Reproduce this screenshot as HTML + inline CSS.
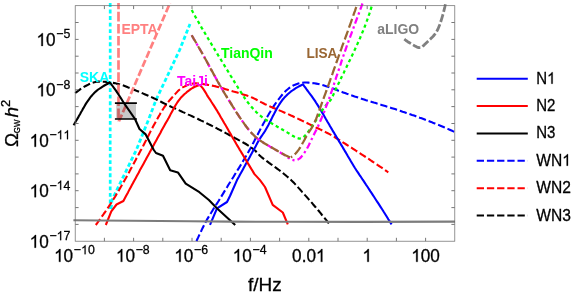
<!DOCTYPE html>
<html><head><meta charset="utf-8"><title>GW spectra</title>
<style>
html,body{margin:0;padding:0;background:#fff;}
body{width:581px;height:296px;overflow:hidden;}
svg{display:block;font-family:"Liberation Sans",sans-serif;will-change:transform;}
.b{font-weight:bold;font-size:14px;}
.o{fill:none;stroke:none;}
</style></head><body>
<svg width="581" height="296" viewBox="0 0 581 296">
<rect width="581" height="296" fill="#fff"/>
<g stroke-linejoin="round">
<path d="M110.2,3.0 L110.2,209.0" stroke="#00ffff" stroke-width="2.7" fill="none" stroke-dasharray="3.9 2.65" />
<path d="M111.0,209.0 L112.0,200.0 L136.3,150.0 L148.4,120.0 L156.0,100.0 L179.6,50.0 L190.0,24.0" stroke="#00ffff" stroke-width="2.8" fill="none" stroke-dasharray="4.1 2.5" />
<path d="M196.5,241.1 L197.3,239.3 L198.2,237.4 L199.0,235.6 L199.9,233.8 L200.8,232.0 L201.6,230.1 L202.5,228.3 L203.4,226.5 L204.3,224.7 L205.2,222.9 L206.2,221.1 L207.1,219.4 L208.2,217.6 L209.2,215.9 L210.2,214.2 L211.3,212.5 L212.4,210.7 L213.4,209.0 L214.5,207.3 L215.6,205.6 L216.7,203.9 L217.8,202.2 L218.9,200.5 L219.9,198.8 L221.0,197.1 L222.0,195.4 L223.1,193.6 L224.1,191.9 L225.2,190.2 L226.2,188.5 L227.3,186.8 L228.3,185.0 L229.4,183.3 L230.5,181.6 L231.5,179.9 L232.6,178.2 L233.7,176.5 L234.7,174.7 L235.8,173.0 L236.8,171.3 L237.9,169.6 L239.0,167.9 L240.0,166.2 L241.1,164.4 L242.1,162.7 L243.1,161.0 L244.2,159.2 L245.2,157.5 L246.2,155.8 L247.2,154.0 L248.2,152.3 L249.2,150.5 L250.2,148.8 L251.2,147.0 L252.1,145.2 L253.0,143.4 L254.0,141.6 L254.9,139.8 L255.8,138.0 L256.7,136.2 L257.7,134.5 L258.6,132.7 L259.5,130.9 L260.5,129.1 L261.4,127.3 L262.4,125.5 L263.3,123.7 L264.3,122.0 L265.3,120.2 L266.3,118.5 L267.3,116.7 L268.3,115.0 L269.3,113.2 L270.4,111.5 L271.4,109.8 L272.5,108.0 L273.6,106.3 L274.7,104.7 L275.9,103.0 L277.0,101.4 L278.2,99.8 L279.5,98.2 L280.7,96.6 L282.0,95.0 L283.3,93.4 L284.7,91.9 L286.2,90.5 L287.7,89.3 L289.2,88.0 L290.9,86.9 L292.7,85.8 L294.5,84.9 L296.3,84.2 L298.3,83.6 L300.2,83.1 L302.3,82.7 L304.3,82.5 L306.3,82.5 L308.3,82.6 L310.3,82.8 L312.3,83.1 L314.3,83.3 L316.3,83.6 L318.3,84.0 L320.2,84.5 L322.2,85.0 L324.1,85.6 L326.1,86.2 L328.0,86.8 L329.9,87.4 L331.8,88.1 L333.7,88.8 L335.6,89.6 L337.4,90.3 L339.3,91.1 L341.2,91.7 L343.1,92.4 L345.0,93.1 L346.9,93.8 L348.8,94.4 L350.7,95.1 L352.6,95.7 L354.6,96.4 L356.5,97.0 L358.4,97.7 L360.3,98.3 L362.2,98.9 L364.1,99.5 L366.1,100.2 L368.0,100.8 L369.9,101.4 L371.8,102.0 L373.8,102.6 L375.7,103.1 L377.6,103.7 L379.5,104.3 L381.5,104.9 L383.4,105.5 L385.3,106.1 L387.3,106.7 L389.2,107.3 L391.1,107.9 L393.0,108.5 L395.0,109.1 L396.9,109.8 L398.8,110.4 L400.7,111.0 L402.6,111.7 L404.5,112.3 L406.4,113.0 L408.3,113.6 L410.2,114.3 L412.1,115.0 L414.1,115.6 L416.0,116.3 L417.9,117.0 L419.8,117.7 L421.6,118.3 L423.5,119.0 L425.4,119.8 L427.3,120.5 L429.2,121.2 L431.1,121.9 L432.9,122.7 L434.8,123.4 L436.7,124.2 L438.6,124.9 L440.4,125.7 L442.3,126.5 L444.1,127.3 L446.0,128.1 L447.8,128.9 L449.7,129.7 L451.5,130.5 L453.4,131.4 L455.2,132.2" stroke="#0000ff" stroke-width="2.1" fill="none" stroke-dasharray="7.3 2.9" />
<path d="M95.8,225.0 L97.0,223.4 L98.2,221.7 L99.4,220.1 L100.5,218.5 L101.7,216.8 L102.9,215.2 L104.0,213.5 L105.2,211.9 L106.3,210.2 L107.5,208.5 L108.6,206.8 L109.7,205.2 L110.8,203.5 L111.9,201.8 L112.9,200.1 L114.0,198.4 L115.1,196.7 L116.1,194.9 L117.1,193.2 L118.2,191.5 L119.2,189.8 L120.2,188.0 L121.2,186.3 L122.2,184.5 L123.2,182.8 L124.2,181.0 L125.2,179.2 L126.2,177.5 L127.1,175.7 L128.1,173.9 L129.1,172.2 L130.0,170.4 L131.0,168.6 L132.0,166.8 L132.9,165.1 L133.9,163.3 L134.8,161.5 L135.8,159.7 L136.7,157.9 L137.7,156.2 L138.6,154.4 L139.6,152.6 L140.5,150.8 L141.5,149.1 L142.5,147.3 L143.4,145.5 L144.3,143.7 L145.2,141.9 L146.2,140.1 L147.1,138.3 L148.0,136.5 L148.9,134.7 L149.8,132.9 L150.7,131.1 L151.7,129.3 L152.6,127.5 L153.5,125.8 L154.5,124.0 L155.5,122.2 L156.4,120.5 L157.4,118.7 L158.4,116.9 L159.4,115.2 L160.4,113.4 L161.5,111.7 L162.5,110.0 L163.6,108.3 L164.7,106.6 L165.9,105.0 L167.1,103.4 L168.4,101.8 L169.7,100.2 L171.0,98.7 L172.3,97.2 L173.7,95.7 L175.1,94.1 L176.5,92.6 L177.9,91.1 L179.4,89.7 L181.0,88.4 L182.6,87.4 L184.3,86.6 L186.1,85.7 L188.0,84.9 L190.0,84.2 L192.0,83.7 L194.0,83.4 L196.0,83.4 L198.0,83.5 L200.0,83.7 L202.0,83.9 L204.0,84.2 L206.0,84.5 L208.0,84.9 L210.0,85.2 L212.0,85.6 L214.0,86.0 L215.9,86.4 L217.9,86.9 L219.8,87.5 L221.8,88.0 L223.7,88.6 L225.6,89.2 L227.6,89.8 L229.5,90.4 L231.4,90.9 L233.4,91.5 L235.3,92.0 L237.3,92.6 L239.2,93.2 L241.2,93.8 L243.1,94.4 L245.0,95.0 L246.9,95.6 L248.8,96.3 L250.7,97.0 L252.6,97.8 L254.4,98.6 L256.2,99.5 L257.9,100.5 L259.7,101.5 L261.5,102.4 L263.3,103.3 L265.1,104.2 L266.9,105.0 L268.8,105.8 L270.6,106.7 L272.5,107.5 L274.3,108.2 L276.2,109.0 L278.0,109.8 L279.9,110.6 L281.8,111.4 L283.6,112.2 L285.5,113.0 L287.3,113.8 L289.2,114.6 L291.0,115.5 L292.8,116.3 L294.6,117.2 L296.5,118.0 L298.3,118.9 L300.1,119.7 L301.9,120.6 L303.8,121.5 L305.6,122.4 L307.4,123.2 L309.2,124.1 L311.0,125.0 L312.8,125.9 L314.6,126.8 L316.4,127.7 L318.3,128.5 L320.1,129.4 L321.9,130.3 L323.7,131.2 L325.5,132.1 L327.3,133.0 L329.1,133.9 L330.9,134.9 L332.6,135.9 L334.3,136.9 L336.0,138.0 L337.8,139.1 L339.5,140.1 L341.2,141.2 L342.9,142.3 L344.6,143.4 L346.3,144.5 L348.0,145.6 L349.7,146.7 L351.4,147.7 L353.1,148.8 L354.8,149.9 L356.4,151.0 L358.1,152.1 L359.8,153.2 L361.5,154.3 L363.2,155.4 L364.9,156.5 L366.6,157.6 L368.3,158.7 L370.0,159.8 L371.6,161.0 L373.3,162.1 L375.0,163.2 L376.7,164.3 L378.3,165.5 L380.0,166.6 L381.7,167.7 L383.3,168.9 L385.0,170.0 L386.6,171.2 L388.3,172.3" stroke="#ff0000" stroke-width="2.1" fill="none" stroke-dasharray="7.3 2.9" />
<path d="M75.2,93.0 L76.8,91.8 L78.4,90.6 L80.1,89.4 L81.8,88.3 L83.5,87.3 L85.2,86.2 L87.0,85.3 L88.8,84.3 L90.6,83.5 L92.5,82.7 L94.4,82.2 L96.4,81.8 L98.4,81.6 L100.4,81.6 L102.4,81.7 L104.4,81.7 L106.4,81.9 L108.4,82.2 L110.4,82.5 L112.4,82.8 L114.4,83.1 L116.4,83.6 L118.4,84.0 L120.3,84.5 L122.2,85.1 L124.1,85.7 L126.0,86.5 L127.8,87.3 L129.7,88.0 L131.6,88.8 L133.4,89.5 L135.3,90.3 L137.2,91.1 L139.0,91.8 L140.9,92.6 L142.8,93.4 L144.6,94.2 L146.5,95.0 L148.3,95.8 L150.1,96.6 L152.0,97.4 L153.8,98.3 L155.6,99.1 L157.4,100.0 L159.2,100.9 L161.0,101.8 L162.8,102.7 L164.6,103.6 L166.5,104.5 L168.3,105.4 L170.1,106.2 L171.9,107.1 L173.7,107.9 L175.6,108.7 L177.4,109.6 L179.3,110.4 L181.1,111.2 L182.9,112.1 L184.8,112.9 L186.6,113.7 L188.4,114.6 L190.3,115.4 L192.1,116.2 L193.9,117.1 L195.7,117.9 L197.6,118.8 L199.4,119.7 L201.2,120.6 L203.0,121.4 L204.8,122.3 L206.6,123.2 L208.4,124.1 L210.2,125.0 L212.0,125.9 L213.8,126.8 L215.6,127.7 L217.4,128.7 L219.2,129.6 L221.0,130.5 L222.8,131.5 L224.5,132.4 L226.3,133.4 L228.1,134.3 L229.8,135.3 L231.6,136.3 L233.4,137.2 L235.2,138.2 L237.0,139.1 L238.8,140.1 L240.6,141.0 L242.4,142.0 L244.1,143.0 L245.9,144.0 L247.6,145.1 L249.3,146.2 L250.9,147.3 L252.5,148.5 L254.1,149.7 L255.6,151.0 L256.9,152.5 L258.3,154.0 L259.7,155.5 L261.1,156.8 L262.7,158.1 L264.2,159.3 L265.9,160.5 L267.5,161.7 L269.1,162.9 L270.8,164.1 L272.5,165.2 L274.1,166.4 L275.8,167.6 L277.4,168.8 L279.0,170.0 L280.6,171.2 L282.1,172.5 L283.7,173.7 L285.3,175.0 L286.8,176.3 L288.4,177.6 L289.9,178.9 L291.3,180.3 L292.8,181.7 L294.2,183.1 L295.6,184.6 L297.0,186.1 L298.3,187.6 L299.7,189.1 L301.0,190.6 L302.3,192.1 L303.7,193.6 L305.0,195.1 L306.4,196.6 L307.7,198.1 L309.0,199.6 L310.3,201.1 L311.7,202.6 L313.0,204.2 L314.3,205.7 L315.6,207.2 L316.9,208.8 L318.2,210.3 L319.5,211.8 L320.8,213.4 L322.0,215.0 L323.3,216.5 L324.6,218.1 L325.9,219.7 L327.1,221.2 L328.4,222.8 L329.6,224.4" stroke="#000000" stroke-width="2.1" fill="none" stroke-dasharray="7.3 2.9" />
<path d="M118.5,3.0 L118.5,121.3" stroke="#ff8080" stroke-width="2.7" fill="none" stroke-dasharray="9.6 2.5" stroke-dashoffset="3.3"/>
<path d="M119.0,121.3 L170.0,3.0" stroke="#ff8080" stroke-width="2.7" fill="none" stroke-dasharray="7.3 2.6" />
<rect x="116.2" y="103.2" width="19.8" height="15.8" fill="#000" fill-opacity="0.21"/>
<path d="M114.9,103.1 H136.9 M114.9,119.0 H136.9" stroke="#000" stroke-width="1.7"/>
<path d="M210.0,224.8 L217.0,208.3 L227.0,202.0 L230.0,196.0 L237.0,180.1 L237.0,180.1 L238.0,178.3 L239.0,176.5 L239.9,174.7 L240.9,173.0 L241.9,171.2 L242.9,169.4 L243.9,167.6 L244.9,165.8 L245.8,164.0 L246.8,162.3 L247.8,160.5 L248.8,158.7 L249.8,156.9 L250.8,155.1 L251.8,153.3 L252.7,151.6 L253.7,149.8 L254.7,148.0 L255.7,146.2 L256.6,144.4 L257.6,142.6 L258.6,140.8 L259.6,139.1 L260.7,137.4 L261.9,135.7 L263.0,134.0 L264.2,132.3 L265.3,130.6 L266.3,128.8 L267.3,127.0 L268.3,125.2 L269.2,123.4 L270.2,121.6 L271.1,119.7 L272.0,117.9 L272.9,116.0 L273.9,114.2 L274.8,112.4 L275.8,110.6 L276.7,108.8 L277.7,107.0 L278.8,105.3 L279.8,103.6 L281.0,101.9 L282.1,100.3 L283.4,98.8 L284.7,97.2 L286.2,95.8 L287.7,94.3 L289.2,93.0 L290.7,91.7 L292.4,90.5 L294.1,89.3 L295.8,88.2 L297.6,87.2 L299.3,86.2 L301.2,85.3 L303.0,84.4 L303.0,84.4 L304.2,86.1 L305.4,87.7 L306.6,89.4 L307.8,91.0 L309.0,92.7 L310.3,94.3 L311.5,95.9 L312.7,97.6 L313.9,99.3 L315.0,100.9 L316.1,102.7 L317.2,104.4 L318.3,106.1 L319.4,107.9 L320.5,109.6 L321.5,111.4 L322.5,113.1 L323.6,114.9 L324.6,116.7 L325.6,118.5 L326.6,120.2 L327.6,122.0 L328.7,123.8 L329.7,125.6 L330.7,127.3 L331.8,129.1 L332.8,130.9 L333.9,132.6 L334.9,134.4 L336.0,136.1 L337.0,137.9 L338.1,139.6 L339.1,141.4 L340.2,143.1 L341.2,144.9 L342.3,146.6 L343.3,148.4 L344.4,150.2 L345.4,151.9 L346.5,153.7 L347.5,155.5 L348.5,157.2 L349.6,159.0 L350.6,160.8 L351.6,162.5 L352.7,164.3 L353.7,166.0 L354.8,167.8 L355.9,169.5 L357.0,171.2 L358.2,172.9 L359.3,174.6 L360.5,176.3 L361.6,178.0 L362.7,179.7 L363.9,181.4 L365.0,183.1 L366.1,184.8 L367.3,186.5 L368.4,188.2 L369.5,189.9 L370.6,191.7 L371.8,193.4 L372.9,195.1 L374.0,196.8 L375.1,198.5 L376.2,200.2 L377.3,201.9 L378.5,203.7 L379.6,205.4 L380.7,207.1 L381.8,208.8 L382.9,210.5 L384.0,212.3 L385.1,214.0 L386.2,215.7 L387.3,217.5 L388.3,219.2 L389.4,220.9 L390.5,222.7 L391.6,224.4" stroke="#0000ff" stroke-width="2.1" fill="none" />
<path d="M105.8,225.0 L111.3,211.4 L116.5,204.5 L123.4,201.0 L126.0,196.0 L126.0,196.0 L127.0,194.2 L128.0,192.4 L128.9,190.6 L129.9,188.7 L130.9,186.9 L131.9,185.1 L132.9,183.3 L133.8,181.5 L134.8,179.7 L135.8,177.9 L136.8,176.1 L137.8,174.3 L138.8,172.5 L139.7,170.6 L140.7,168.8 L141.7,167.0 L142.7,165.2 L143.7,163.4 L144.7,161.6 L145.7,159.8 L146.6,158.0 L147.6,156.2 L148.6,154.4 L149.6,152.6 L150.6,150.7 L151.6,148.9 L152.6,147.1 L153.6,145.3 L154.5,143.5 L155.5,141.7 L156.5,139.9 L157.5,138.1 L158.5,136.3 L159.5,134.5 L160.5,132.7 L161.4,130.8 L162.4,129.0 L163.4,127.2 L164.4,125.4 L165.4,123.6 L166.5,121.8 L167.5,120.1 L168.5,118.3 L169.5,116.4 L170.4,114.6 L171.4,112.7 L172.4,110.9 L173.4,109.1 L174.4,107.3 L175.4,105.5 L176.5,103.7 L177.6,102.0 L178.8,100.4 L180.0,98.8 L181.3,97.2 L182.8,95.8 L184.3,94.3 L185.9,93.0 L187.4,91.6 L189.1,90.4 L190.7,89.2 L192.5,88.0 L194.3,87.0 L196.1,86.2 L198.1,85.5 L200.1,85.0 L200.1,85.0 L201.4,86.6 L202.7,88.2 L203.9,89.9 L205.0,91.6 L206.0,93.3 L207.0,95.1 L208.1,96.9 L209.3,98.6 L210.4,100.2 L211.5,102.0 L212.6,103.7 L213.7,105.4 L214.8,107.1 L215.9,108.9 L217.0,110.6 L218.0,112.4 L219.1,114.1 L220.1,115.9 L221.1,117.7 L222.2,119.4 L223.2,121.2 L224.2,123.0 L225.3,124.8 L226.3,126.5 L227.3,128.3 L228.3,130.1 L229.3,131.9 L230.4,133.6 L231.4,135.4 L232.4,137.2 L233.4,139.0 L234.5,140.7 L235.5,142.5 L236.5,144.3 L237.6,146.1 L238.6,147.8 L239.6,149.6 L240.7,151.3 L241.8,153.1 L242.8,154.8 L243.9,156.6 L244.9,158.3 L246.0,160.1 L247.0,161.9 L248.1,163.6 L249.2,165.4 L250.2,167.1 L251.3,168.9 L252.4,170.6 L253.4,172.4 L254.5,174.1 L260.0,180.1 L265.0,187.0 L272.7,204.9 L282.8,212.5 L287.8,224.4" stroke="#ff0000" stroke-width="2.1" fill="none" />
<path d="M73.6,125.2 L74.7,123.4 L75.7,121.5 L76.8,119.7 L77.9,117.9 L78.9,116.0 L80.0,114.2 L81.0,112.3 L82.1,110.5 L83.1,108.6 L84.2,106.7 L85.2,104.9 L86.3,103.1 L87.5,101.4 L88.8,99.6 L90.0,97.9 L91.3,96.2 L92.7,94.6 L94.2,93.0 L95.7,91.6 L97.3,90.2 L99.0,89.0 L100.8,87.8 L102.6,86.6 L104.4,85.5 L106.2,84.5 L108.1,83.5 L110.0,82.5 L110.0,82.5 L115.6,90.1 L120.5,97.5 L124.0,103.2 L135.0,119.0 L139.5,129.0 L145.7,134.4 L153.8,150.0 L156.0,153.0 L163.0,155.8 L170.2,170.3 L177.9,172.4 L185.7,183.6 L199.4,192.2 L208.9,200.0 L216.6,207.9 L235.2,225.1" stroke="#000000" stroke-width="2.1" fill="none" />
<path d="M191.7,10.0 L192.7,11.8 L193.7,13.5 L194.6,15.3 L195.6,17.1 L196.6,18.8 L197.6,20.6 L198.6,22.3 L199.6,24.1 L200.6,25.8 L201.6,27.6 L202.7,29.3 L203.7,31.1 L204.7,32.8 L205.7,34.5 L206.7,36.3 L207.8,38.0 L208.8,39.7 L209.8,41.5 L210.9,43.2 L211.9,44.9 L213.0,46.7 L214.0,48.4 L215.1,50.1 L216.1,51.8 L217.2,53.6 L218.2,55.3 L219.3,57.0 L220.3,58.7 L221.4,60.5 L222.4,62.2 L223.5,63.9 L224.5,65.6 L225.6,67.4 L226.6,69.1 L227.7,70.8 L228.7,72.5 L229.8,74.3 L230.8,76.0 L231.9,77.7 L232.9,79.4 L234.0,81.1 L235.0,82.9 L236.1,84.6 L237.2,86.3 L238.2,88.0 L239.3,89.7 L240.4,91.4 L241.5,93.1 L242.6,94.8 L243.7,96.5 L244.7,98.2 L245.9,99.9 L247.1,101.5 L248.4,103.1 L249.6,104.7 L250.9,106.2 L252.3,107.8 L253.6,109.3 L255.0,110.8 L256.4,112.2 L257.9,113.6 L259.4,114.9 L260.9,116.2 L262.4,117.4 L264.1,118.6 L265.7,119.7 L267.4,120.8 L269.2,121.9 L270.9,122.9 L272.7,124.0 L274.4,125.0 L276.2,126.0 L277.9,127.1 L279.7,128.1 L281.4,129.1 L283.2,130.1 L284.9,131.1 L286.7,132.1 L288.4,133.1 L290.1,134.2 L291.8,135.3 L293.6,136.3 L295.4,137.2 L297.3,138.1 L299.2,138.6 L301.2,138.3 L303.1,137.5 L304.6,136.2 L305.9,134.6 L307.2,133.1 L308.4,131.5 L309.6,129.8 L310.8,128.2 L312.0,126.5 L313.1,124.9 L314.2,123.2 L315.3,121.5 L316.4,119.7 L317.4,118.0 L318.5,116.3 L319.6,114.5 L320.6,112.8 L321.7,111.1 L322.9,109.4 L324.0,107.8 L325.2,106.2 L326.4,104.6 L327.6,103.0 L329.1,101.6 L330.5,100.2 L331.6,98.5 L332.5,96.7 L333.3,94.9 L334.1,93.0 L334.9,91.1 L335.8,89.3 L336.6,87.4 L337.5,85.6 L338.4,83.8 L339.3,82.0 L340.1,80.2 L341.0,78.3 L341.9,76.5 L342.8,74.7 L343.7,72.9 L344.5,71.1 L345.4,69.3 L346.3,67.5 L347.2,65.6 L348.1,63.8 L348.9,62.0 L349.8,60.2 L350.7,58.4 L351.6,56.5 L352.4,54.7 L353.3,52.9 L354.1,51.1 L355.0,49.2 L355.8,47.4 L356.6,45.5 L357.5,43.7 L358.3,41.9 L359.1,40.0 L360.0,38.2 L360.8,36.3 L361.6,34.5 L362.3,32.6 L363.1,30.7 L363.9,28.9 L364.6,27.0 L365.3,25.1 L366.0,23.2 L366.7,21.3 L367.4,19.4 L368.1,17.5 L368.7,15.6 L369.4,13.7 L370.0,11.8 L370.6,9.9 L371.2,7.9 L371.8,6.0" stroke="#00ff00" stroke-width="2.25" fill="none" stroke-dasharray="3.3 3.0" />
<path d="M191.7,35.3 L192.7,37.0 L193.7,38.8 L194.8,40.5 L195.8,42.3 L196.8,44.0 L197.8,45.8 L198.8,47.5 L199.9,49.2 L200.9,51.0 L201.9,52.7 L202.9,54.5 L203.9,56.3 L204.8,58.0 L205.8,59.8 L206.8,61.6 L207.8,63.3 L208.7,65.1 L209.7,66.9 L210.7,68.7 L211.6,70.4 L212.6,72.2 L213.6,74.0 L214.6,75.8 L215.5,77.5 L216.5,79.3 L217.5,81.1 L218.5,82.8 L219.5,84.6 L220.5,86.4 L221.5,88.1 L222.5,89.8 L223.5,91.6 L224.6,93.3 L225.6,95.0 L226.7,96.7 L227.7,98.5 L228.8,100.2 L229.9,101.9 L231.0,103.6 L232.0,105.3 L233.1,107.0 L234.2,108.7 L235.3,110.5 L236.4,112.2 L237.5,113.9 L238.6,115.7 L239.7,117.4 L240.9,119.1 L242.0,120.7 L243.2,122.4 L244.4,124.1 L245.6,125.7 L246.8,127.3 L248.1,128.9 L249.4,130.4 L250.7,131.9 L252.0,133.4 L253.3,134.8 L254.7,136.2 L256.2,137.5 L257.8,138.8 L259.5,140.0 L261.1,141.2 L262.8,142.3 L264.5,143.3 L266.2,144.4 L268.0,145.4 L269.7,146.4 L271.5,147.4 L273.2,148.5 L275.0,149.5 L276.7,150.5 L278.5,151.5 L280.2,152.5 L281.9,153.6 L283.7,154.6 L285.4,155.6 L287.1,156.8 L288.7,158.0 L290.4,159.1 L292.3,159.8 L294.3,160.3" stroke="#ff00ff" stroke-width="2.25" fill="none" stroke-dasharray="6.5 3 2.4 3" />
<path d="M362.5,3.5 L361.8,5.4 L361.1,7.3 L360.4,9.2 L359.7,11.1 L359.0,13.0 L358.3,14.9 L357.6,16.8 L356.9,18.7 L356.2,20.5 L355.5,22.4 L354.8,24.3 L354.1,26.2 L353.4,28.1 L352.7,30.0 L352.0,31.9 L351.3,33.8 L350.6,35.7 L349.9,37.6 L349.2,39.5 L348.5,41.4 L347.8,43.3 L347.1,45.2 L346.4,47.1 L345.8,49.0 L345.1,50.9 L344.4,52.8 L343.8,54.7 L343.1,56.6 L342.5,58.5 L341.8,60.4 L341.2,62.4 L340.6,64.3 L339.9,66.2 L339.3,68.1 L338.7,70.0 L338.0,71.9 L337.4,73.9 L336.7,75.8 L336.1,77.7 L335.5,79.6 L334.8,81.5 L334.2,83.5 L333.6,85.4 L333.0,87.3 L332.3,89.2 L331.7,91.1 L331.0,93.0 L330.4,95.0 L329.7,96.9 L329.1,98.8 L328.4,100.7 L327.7,102.5 L327.0,104.4 L326.2,106.3 L325.5,108.2 L324.8,110.1 L324.1,112.0 L323.3,113.9 L322.5,115.7 L321.8,117.6 L321.0,119.5 L320.2,121.3 L319.4,123.2 L318.6,125.0 L317.8,126.9 L316.9,128.7 L316.0,130.5 L315.1,132.3 L314.2,134.1 L313.3,135.9 L312.4,137.7 L311.5,139.5 L310.6,141.3 L309.7,143.2 L308.9,145.0 L308.0,146.8 L307.0,148.6 L306.0,150.3 L304.9,152.0 L303.8,153.7 L302.6,155.3 L301.3,156.9 L299.8,158.4 L298.2,159.4 L296.3,160.2 L294.3,160.3" stroke="#ff00ff" stroke-width="2.25" fill="none" stroke-dasharray="6.5 3 2.4 3" />
<path d="M191.7,35.3 L192.7,37.0 L193.7,38.8 L194.8,40.5 L195.8,42.2 L196.8,44.0 L197.8,45.7 L198.8,47.5 L199.8,49.2 L200.9,51.0 L201.9,52.7 L202.8,54.5 L203.8,56.2 L204.8,58.0 L205.8,59.7 L206.8,61.5 L207.7,63.3 L208.7,65.1 L209.7,66.8 L210.6,68.6 L211.6,70.4 L212.6,72.1 L213.5,73.9 L214.5,75.7 L215.5,77.5 L216.5,79.2 L217.4,81.0 L218.4,82.7 L219.4,84.5 L220.4,86.2 L221.4,88.0 L222.4,89.7 L223.5,91.5 L224.5,93.2 L225.5,94.9 L226.6,96.6 L227.6,98.3 L228.7,100.0 L229.8,101.7 L230.9,103.4 L231.9,105.1 L233.0,106.9 L234.1,108.6 L235.2,110.3 L236.3,112.1 L237.4,113.8 L238.5,115.5 L239.6,117.2 L240.8,118.9 L241.9,120.6 L243.1,122.2 L244.3,123.9 L245.5,125.5 L246.7,127.1 L247.9,128.7 L249.2,130.2 L250.5,131.7 L251.8,133.2 L253.2,134.6 L254.5,136.0 L256.0,137.4 L257.6,138.7 L259.2,139.9 L260.9,141.0 L262.6,142.1 L264.2,143.2 L266.0,144.3 L267.7,145.3 L269.4,146.3 L271.2,147.3 L273.0,148.3 L274.7,149.3 L276.5,150.3 L278.2,151.3 L280.0,152.3 L281.7,153.3 L283.5,154.2 L285.3,155.2 L287.1,156.1 L289.0,157.1 L290.8,157.3" stroke="#996633" stroke-width="2.25" fill="none" stroke-dasharray="9.3 3.3" />
<path d="M356.3,7.0 L355.6,8.9 L355.0,10.8 L354.3,12.7 L353.6,14.6 L353.0,16.5 L352.3,18.4 L351.6,20.3 L351.0,22.2 L350.3,24.1 L349.6,26.0 L348.9,27.9 L348.2,29.8 L347.6,31.7 L346.9,33.6 L346.2,35.5 L345.5,37.4 L344.8,39.3 L344.1,41.2 L343.4,43.1 L342.7,44.9 L342.0,46.8 L341.4,48.7 L340.7,50.6 L340.0,52.5 L339.3,54.4 L338.6,56.3 L338.0,58.2 L337.3,60.1 L336.6,62.0 L335.9,63.9 L335.3,65.8 L334.6,67.7 L333.9,69.6 L333.2,71.5 L332.6,73.4 L331.9,75.3 L331.2,77.2 L330.5,79.1 L329.9,81.0 L329.2,82.9 L328.5,84.8 L327.8,86.7 L327.1,88.6 L326.5,90.5 L325.8,92.4 L325.1,94.3 L324.4,96.2 L323.7,98.1 L323.0,100.0 L322.3,101.9 L321.6,103.8 L321.0,105.7 L320.3,107.6 L319.6,109.5 L318.9,111.4 L318.2,113.3 L317.5,115.2 L316.8,117.1 L316.1,118.9 L315.3,120.8 L314.5,122.6 L313.6,124.4 L312.7,126.2 L311.7,127.9 L310.6,129.6 L309.4,131.3 L308.3,133.0 L307.3,134.7 L306.3,136.4 L305.3,138.2 L304.4,140.0 L303.4,141.8 L302.4,143.5 L301.5,145.3 L300.5,147.0 L299.4,148.7 L298.2,150.4 L296.9,152.0 L295.6,153.5 L294.2,154.9 L292.5,156.4 L290.8,157.3" stroke="#996633" stroke-width="2.25" fill="none" stroke-dasharray="9.3 3.3" />
<path d="M404.3,39.2 L406.0,40.5 L407.7,41.7 L409.5,42.8 L411.3,43.9 L413.1,44.9 L415.0,46.1 L417.0,47.1 L418.8,47.7 L420.6,47.6 L422.4,46.6 L424.1,45.1 L425.7,43.5 L427.3,42.0 L428.8,40.6 L430.4,39.1 L431.9,37.6 L433.4,36.0 L434.7,34.4 L435.9,32.7 L436.9,31.0 L437.9,29.2 L438.7,27.3 L439.5,25.3 L440.2,23.3 L440.9,21.3 L441.5,19.3 L442.1,17.3 L442.7,15.3 L443.3,13.2 L443.8,11.2 L444.3,9.2 L444.8,7.1 L445.2,5.1 L445.6,3.0" stroke="#808080" stroke-width="2.8" fill="none" stroke-dasharray="8 2.4" />
</g>
<path d="M73.4,220.2 L100,220.45 L130,220.7 L160,221.0 L190,221.3 L230,221.65 L290,221.8 L360,221.85 L455,221.6" stroke="#7c7c7c" stroke-width="2.1" fill="none"/>
<rect x="75.2" y="5.7" width="379.6" height="235.5" fill="none" stroke="#666" stroke-width="0.7"/>
<path d="M104.4,241.2 v-3.4 M104.4,5.7 v3.4 M133.6,241.2 v-3.4 M133.6,5.7 v3.4 M162.8,241.2 v-3.4 M162.8,5.7 v3.4 M192.0,241.2 v-3.4 M192.0,5.7 v3.4 M221.2,241.2 v-3.4 M221.2,5.7 v3.4 M250.4,241.2 v-3.4 M250.4,5.7 v3.4 M279.6,241.2 v-3.4 M279.6,5.7 v3.4 M308.8,241.2 v-3.4 M308.8,5.7 v3.4 M338.0,241.2 v-3.4 M338.0,5.7 v3.4 M367.2,241.2 v-3.4 M367.2,5.7 v3.4 M396.4,241.2 v-3.4 M396.4,5.7 v3.4 M425.6,241.2 v-3.4 M425.6,5.7 v3.4 M75.2,224.4 h3.4 M454.8,224.4 h-3.4 M75.2,207.6 h3.4 M454.8,207.6 h-3.4 M75.2,190.7 h3.4 M454.8,190.7 h-3.4 M75.2,173.9 h3.4 M454.8,173.9 h-3.4 M75.2,157.1 h3.4 M454.8,157.1 h-3.4 M75.2,140.3 h3.4 M454.8,140.3 h-3.4 M75.2,123.5 h3.4 M454.8,123.5 h-3.4 M75.2,106.6 h3.4 M454.8,106.6 h-3.4 M75.2,89.8 h3.4 M454.8,89.8 h-3.4 M75.2,73.0 h3.4 M454.8,73.0 h-3.4 M75.2,56.2 h3.4 M454.8,56.2 h-3.4 M75.2,39.4 h3.4 M454.8,39.4 h-3.4 M75.2,22.5 h3.4 M454.8,22.5 h-3.4" stroke="#777" stroke-width="1" fill="none"/>
<g fill="#000" stroke="#000" stroke-width="0.3" opacity="0.999">
<text transform="translate(74.4,261.8) scale(0.97,1)" text-anchor="middle" font-size="17.7" ><tspan class="o">1</tspan>0<tspan font-size="12.7" dy="-7.5" dx="0.7">−<tspan class="o">1</tspan>0</tspan></text>
<text transform="translate(132.8,261.8) scale(0.97,1)" text-anchor="middle" font-size="17.7" ><tspan class="o">1</tspan>0<tspan font-size="12.7" dy="-7.5" dx="0.7">−8</tspan></text>
<text transform="translate(191.2,261.8) scale(0.97,1)" text-anchor="middle" font-size="17.7" ><tspan class="o">1</tspan>0<tspan font-size="12.7" dy="-7.5" dx="0.7">−6</tspan></text>
<text transform="translate(249.6,261.8) scale(0.97,1)" text-anchor="middle" font-size="17.7" ><tspan class="o">1</tspan>0<tspan font-size="12.7" dy="-7.5" dx="0.7">−4</tspan></text>
<text transform="translate(308.8,261.8) scale(0.97,1)" text-anchor="middle" font-size="17.7" >0.0<tspan class="o">1</tspan></text>
<text transform="translate(367.2,261.8) scale(0.97,1)" text-anchor="middle" font-size="17.7" ><tspan class="o">1</tspan></text>
<text transform="translate(425.6,261.8) scale(0.97,1)" text-anchor="middle" font-size="17.7" ><tspan class="o">1</tspan>00</text>
<text transform="translate(70.3,45.9) scale(0.97,1)" text-anchor="end" font-size="17.7" ><tspan class="o">1</tspan>0<tspan font-size="12.7" dy="-7.5" dx="0.7">−5</tspan></text>
<text transform="translate(70.3,96.3) scale(0.97,1)" text-anchor="end" font-size="17.7" ><tspan class="o">1</tspan>0<tspan font-size="12.7" dy="-7.5" dx="0.7">−8</tspan></text>
<text transform="translate(70.3,146.8) scale(0.97,1)" text-anchor="end" font-size="17.7" ><tspan class="o">1</tspan>0<tspan font-size="12.7" dy="-7.5" dx="0.7">−<tspan class="o">1</tspan><tspan class="o">1</tspan></tspan></text>
<text transform="translate(70.3,197.2) scale(0.97,1)" text-anchor="end" font-size="17.7" ><tspan class="o">1</tspan>0<tspan font-size="12.7" dy="-7.5" dx="0.7">−<tspan class="o">1</tspan>4</tspan></text>
<text transform="translate(70.3,247.7) scale(0.97,1)" text-anchor="end" font-size="17.7" ><tspan class="o">1</tspan>0<tspan font-size="12.7" dy="-7.5" dx="0.7">−<tspan class="o">1</tspan>7</tspan></text>
<text transform="translate(264.9,290.8) scale(1.0,1)" text-anchor="middle" font-size="19" >f/Hz</text>
<text transform="translate(17.8,147.0) rotate(-90)" font-size="19">Ω</text>
<text transform="translate(19.8,133.2) rotate(-90) scale(0.92,1)" font-size="8.6">GW</text>
<text transform="translate(17.8,117.6) rotate(-90)" font-size="19" font-style="italic">h</text>
<text transform="translate(10.4,107.0) rotate(-90)" font-size="13">2</text>
<path d="M476.7,78.7 H527.8" stroke="#0000ff" stroke-width="2" fill="none"/>
<text transform="translate(536.2,83.7) scale(0.94,1)" text-anchor="start" font-size="16" >N<tspan class="o">1</tspan></text>
<path d="M476.7,105.9 H527.8" stroke="#ff0000" stroke-width="2" fill="none"/>
<text transform="translate(536.2,110.9) scale(0.94,1)" text-anchor="start" font-size="16" >N2</text>
<path d="M476.7,133.4 H527.8" stroke="#000" stroke-width="2" fill="none"/>
<text transform="translate(536.2,138.4) scale(0.94,1)" text-anchor="start" font-size="16" >N3</text>
<path d="M476.7,160.7 H527.8" stroke="#0000ff" stroke-width="2" stroke-dasharray="7.3 2.9" fill="none"/>
<text transform="translate(536.2,165.7) scale(0.975,1)" text-anchor="start" font-size="16" >WN<tspan class="o">1</tspan></text>
<path d="M476.7,188.2 H527.8" stroke="#ff0000" stroke-width="2" stroke-dasharray="7.3 2.9" fill="none"/>
<text transform="translate(536.2,193.2) scale(0.975,1)" text-anchor="start" font-size="16" >WN2</text>
<path d="M476.7,215.6 H527.8" stroke="#000" stroke-width="2" stroke-dasharray="7.3 2.9" fill="none"/>
<text transform="translate(536.2,220.6) scale(0.975,1)" text-anchor="start" font-size="16" >WN3</text>
</g>
<g opacity="0.999">
<text class="b" transform="translate(79.8,81.5) scale(0.999,1)" fill="#00ffff">SKA</text>
<text class="b" transform="translate(121.4,34.4) scale(0.999,1)" fill="#ff8080">EPTA</text>
<text class="b" transform="translate(177.0,85.6) scale(0.999,1)" fill="#ff00ff">TaiJi</text>
<text class="b" transform="translate(221.0,57.5) scale(0.999,1)" fill="#00ff00">TianQin</text>
<text class="b" transform="translate(306.4,57.7) scale(0.975,1)" fill="#996633">LISA</text>
<text class="b" transform="translate(377.3,34.3) scale(0.999,1)" fill="#808080">aLIGO</text>
</g>
<g fill="#000" stroke="#000" stroke-width="0.017">
<path transform="matrix(17.1690,0.0000,0.0000,17.7000,54.06,261.80)" d="M.3726,0H.2847V-.5601Q.2529,-.5298 .2014,-.4995T.1089,-.4541V-.5391Q.1826,-.5737 .2378,-.6230T.3159,-.7188H.3726Z"/>
<path transform="matrix(12.3190,0.0000,0.0000,12.7000,81.05,254.30)" d="M.3726,0H.2847V-.5601Q.2529,-.5298 .2014,-.4995T.1089,-.4541V-.5391Q.1826,-.5737 .2378,-.6230T.3159,-.7188H.3726Z"/>
<path transform="matrix(17.1690,0.0000,0.0000,17.7000,115.88,261.80)" d="M.3726,0H.2847V-.5601Q.2529,-.5298 .2014,-.4995T.1089,-.4541V-.5391Q.1826,-.5737 .2378,-.6230T.3159,-.7188H.3726Z"/>
<path transform="matrix(17.1690,0.0000,0.0000,17.7000,174.28,261.80)" d="M.3726,0H.2847V-.5601Q.2529,-.5298 .2014,-.4995T.1089,-.4541V-.5391Q.1826,-.5737 .2378,-.6230T.3159,-.7188H.3726Z"/>
<path transform="matrix(17.1690,0.0000,0.0000,17.7000,232.68,261.80)" d="M.3726,0H.2847V-.5601Q.2529,-.5298 .2014,-.4995T.1089,-.4541V-.5391Q.1826,-.5737 .2378,-.6230T.3159,-.7188H.3726Z"/>
<path transform="matrix(17.1690,0.0000,0.0000,17.7000,315.95,261.80)" d="M.3726,0H.2847V-.5601Q.2529,-.5298 .2014,-.4995T.1089,-.4541V-.5391Q.1826,-.5737 .2378,-.6230T.3159,-.7188H.3726Z"/>
<path transform="matrix(17.1690,0.0000,0.0000,17.7000,362.42,261.80)" d="M.3726,0H.2847V-.5601Q.2529,-.5298 .2014,-.4995T.1089,-.4541V-.5391Q.1826,-.5737 .2378,-.6230T.3159,-.7188H.3726Z"/>
<path transform="matrix(17.1690,0.0000,0.0000,17.7000,411.28,261.80)" d="M.3726,0H.2847V-.5601Q.2529,-.5298 .2014,-.4995T.1089,-.4541V-.5391Q.1826,-.5737 .2378,-.6230T.3159,-.7188H.3726Z"/>
<path transform="matrix(17.1690,0.0000,0.0000,17.7000,36.47,45.90)" d="M.3726,0H.2847V-.5601Q.2529,-.5298 .2014,-.4995T.1089,-.4541V-.5391Q.1826,-.5737 .2378,-.6230T.3159,-.7188H.3726Z"/>
<path transform="matrix(17.1690,0.0000,0.0000,17.7000,36.47,96.30)" d="M.3726,0H.2847V-.5601Q.2529,-.5298 .2014,-.4995T.1089,-.4541V-.5391Q.1826,-.5737 .2378,-.6230T.3159,-.7188H.3726Z"/>
<path transform="matrix(17.1690,0.0000,0.0000,17.7000,29.62,146.80)" d="M.3726,0H.2847V-.5601Q.2529,-.5298 .2014,-.4995T.1089,-.4541V-.5391Q.1826,-.5737 .2378,-.6230T.3159,-.7188H.3726Z"/>
<path transform="matrix(12.3190,0.0000,0.0000,12.7000,56.61,139.30)" d="M.3726,0H.2847V-.5601Q.2529,-.5298 .2014,-.4995T.1089,-.4541V-.5391Q.1826,-.5737 .2378,-.6230T.3159,-.7188H.3726Z"/>
<path transform="matrix(12.3190,0.0000,0.0000,12.7000,63.45,139.30)" d="M.3726,0H.2847V-.5601Q.2529,-.5298 .2014,-.4995T.1089,-.4541V-.5391Q.1826,-.5737 .2378,-.6230T.3159,-.7188H.3726Z"/>
<path transform="matrix(17.1690,0.0000,0.0000,17.7000,29.62,197.20)" d="M.3726,0H.2847V-.5601Q.2529,-.5298 .2014,-.4995T.1089,-.4541V-.5391Q.1826,-.5737 .2378,-.6230T.3159,-.7188H.3726Z"/>
<path transform="matrix(12.3190,0.0000,0.0000,12.7000,56.61,189.70)" d="M.3726,0H.2847V-.5601Q.2529,-.5298 .2014,-.4995T.1089,-.4541V-.5391Q.1826,-.5737 .2378,-.6230T.3159,-.7188H.3726Z"/>
<path transform="matrix(17.1690,0.0000,0.0000,17.7000,29.62,247.70)" d="M.3726,0H.2847V-.5601Q.2529,-.5298 .2014,-.4995T.1089,-.4541V-.5391Q.1826,-.5737 .2378,-.6230T.3159,-.7188H.3726Z"/>
<path transform="matrix(12.3190,0.0000,0.0000,12.7000,56.61,240.20)" d="M.3726,0H.2847V-.5601Q.2529,-.5298 .2014,-.4995T.1089,-.4541V-.5391Q.1826,-.5737 .2378,-.6230T.3159,-.7188H.3726Z"/>
<path transform="matrix(15.0400,0.0000,0.0000,16.0000,547.07,83.70)" d="M.3726,0H.2847V-.5601Q.2529,-.5298 .2014,-.4995T.1089,-.4541V-.5391Q.1826,-.5737 .2378,-.6230T.3159,-.7188H.3726Z"/>
<path transform="matrix(15.6000,0.0000,0.0000,16.0000,562.19,165.70)" d="M.3726,0H.2847V-.5601Q.2529,-.5298 .2014,-.4995T.1089,-.4541V-.5391Q.1826,-.5737 .2378,-.6230T.3159,-.7188H.3726Z"/>
</g>
</svg>
</body></html>
